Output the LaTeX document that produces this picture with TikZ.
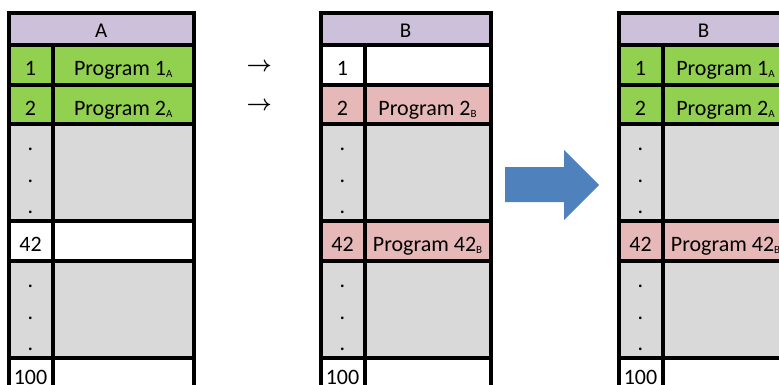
\documentclass[tikz,border=0pt]{standalone}
\usepackage{fontspec}
\setmainfont{Carlito}
\usepackage{tikz}
\usetikzlibrary{matrix, positioning, calc}

\definecolor{hdrpurple}{RGB}{204,192,218}
\definecolor{prggreen}{RGB}{146,208,80}
\definecolor{prgpink}{RGB}{230,184,183}
\definecolor{freegray}{RGB}{217,217,217}
\definecolor{movblue}{RGB}{79,129,189}

\newcommand{\psub}[1]{\raisebox{-2.3pt}{\fontsize{11}{12}\selectfont #1}}
\newcommand{\cpyarrow}{\mbox{\usefont{OMS}{cmsy}{b}{n}\symbol{"21}}}

\tikzset{
  memtable/.style={
    matrix of nodes,
    nodes in empty cells,
    inner sep=0pt, outer sep=0pt,
    row sep=0pt, column sep=0pt,
    anchor=north west,
    nodes={inner sep=0pt, outer sep=0pt, anchor=center, fill=white,
           font=\fontsize{22}{26}\selectfont, text height=21pt, text depth=0pt},
    column 1/.style={nodes={minimum width=44pt}},
    row 1/.style={nodes={minimum height=40pt}},
    row 2/.style={nodes={minimum height=39pt}},
    row 3/.style={nodes={minimum height=96.5pt}},
    row 4/.style={nodes={minimum height=40.5pt}},
    row 5/.style={nodes={minimum height=96.5pt}},
    row 6/.style={nodes={minimum height=32pt}},
  },
  gcell/.style={fill=prggreen},
  pcell/.style={fill=prgpink},
  ecell/.style={fill=freegray},
  hdr/.style={fill=hdrpurple, inner sep=0pt, outer sep=0pt, minimum height=32pt,
              anchor=south west, font=\fontsize{21}{24}\selectfont,
              text height=17pt, text depth=0pt},
  dotmark/.style={inner sep=0pt, font=\fontsize{22}{26}\selectfont,
                  text height=0pt, text depth=0pt},
  gridline/.style={line width=4pt, black},
  seqarrow/.style={inner sep=0pt, scale=2.2, transform shape},
}

\begin{document}
\begin{tikzpicture}[x=1pt, y=-1pt]
\useasboundingbox (0,0) rectangle (779,385);
\clip (0,0) rectangle (779,385);

%% table A
\matrix (mA) [memtable, column 2/.style={nodes={minimum width=141.5pt}}] at (8.5,45) {
  |[gcell]| 1  & |[gcell]| Program 1\psub{A} \\
  |[gcell]| 2  & |[gcell]| Program 2\psub{A} \\
  |[ecell]|    & |[ecell]| \\
  42           & \\
  |[ecell]|    & |[ecell]| \\
  100          & \\
};
%% table B
\matrix (mB) [memtable, column 2/.style={nodes={minimum width=126pt}}] at (320.5,45) {
  1            & \\
  |[pcell]| 2  & |[pcell]| Program 2\psub{B} \\
  |[ecell]|    & |[ecell]| \\
  |[pcell]| 42 & |[pcell]| Program 42\psub{B} \\
  |[ecell]|    & |[ecell]| \\
  100          & \\
};
%% table B after copy
\matrix (mC) [memtable, column 2/.style={nodes={minimum width=126pt}}] at (618.5,45) {
  |[gcell]| 1  & |[gcell]| Program 1\psub{A} \\
  |[gcell]| 2  & |[gcell]| Program 2\psub{A} \\
  |[ecell]|    & |[ecell]| \\
  |[pcell]| 42 & |[pcell]| Program 42\psub{B} \\
  |[ecell]|    & |[ecell]| \\
  100          & \\
};

%% Headers
\node[hdr, minimum width=185.5pt] (hA) at (mA.north west) {A};
\node[hdr, minimum width=170pt]   (hB) at (mB.north west) {B};
\node[hdr, minimum width=170pt]   (hC) at (mC.north west) {B};

%% Dots in the free rows
\foreach \t in {A,B,C} {
  \foreach \r in {3,5} {
    \foreach \d in {22,-10,-41} {
      \node[dotmark] (dot\t\r\d) at ([yshift=\d pt]m\t-\r-1.center) {.};
    }
  }
}

%% Draw grid
\foreach \t in {A,B,C} {
  \draw[gridline] (h\t.north west) rectangle (h\t.south east);
  \foreach \r in {1,...,6} {
    \foreach \c in {1,2} {
      \draw[gridline] (m\t-\r-\c.north west) rectangle (m\t-\r-\c.south east);
    }
  }
}

%% Copy arrows
\node[seqarrow] (arr1) at ($(mA-1-2.east)!0.5!(mB-1-1.west)+(2,2)$) {\cpyarrow};
\node[seqarrow] (arr2) at ($(mA-2-2.east)!0.5!(mB-2-1.west)+(2,2)$) {\cpyarrow};

%% Big arrow
\fill[movblue] (505,167) -- (564,167) -- (564,150) -- (599,185)
  -- (564,220) -- (564,202) -- (505,202) -- cycle;
\end{tikzpicture}
\end{document}
